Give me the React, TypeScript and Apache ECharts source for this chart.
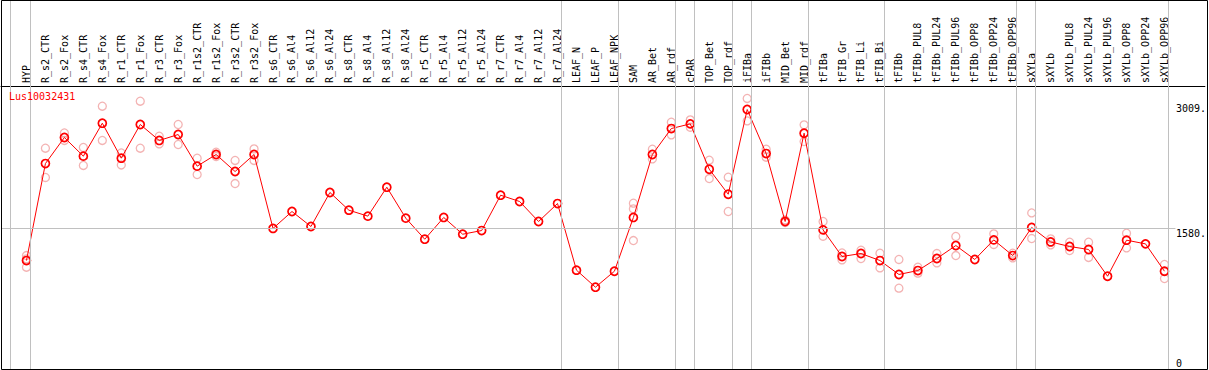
import React, { useEffect, useRef } from "react";
import * as echarts from "echarts";

const geneName = "Lus10032431";

const categories = [
  "HYP", "R_s2_CTR", "R_s2_Fox", "R_s4_CTR", "R_s4_Fox", "R_r1_CTR", "R_r1_Fox", "R_r3_CTR", "R_r3_Fox",
  "R_r1s2_CTR", "R_r1s2_Fox", "R_r3s2_CTR", "R_r3s2_Fox", "R_s6_CTR", "R_s6_Al4", "R_s6_Al12", "R_s6_Al24",
  "R_s8_CTR", "R_s8_Al4", "R_s8_Al12", "R_s8_Al24", "R_r5_CTR", "R_r5_Al4", "R_r5_Al12", "R_r5_Al24",
  "R_r7_CTR", "R_r7_Al4", "R_r7_Al12", "R_r7_Al24", "LEAF_N", "LEAF_P", "LEAF_NPK", "SAM", "AR_Bet", "AR_rdf",
  "cPAR", "TOP_Bet", "TOP_rdf", "iFIBa", "iFIBb", "MID_Bet", "MID_rdf", "tFIBa", "tFIB_Gr", "tFIB_Li", "tFIB_Bi",
  "tFIBb", "tFIBb_PUL8", "tFIBb_PUL24", "tFIBb_PUL96", "tFIBb_OPP8", "tFIBb_OPP24", "tFIBb_OPP96", "sXYLa",
  "sXYLb", "sXYLb_PUL8", "sXYLb_PUL24", "sXYLb_PUL96", "sXYLb_OPP8", "sXYLb_OPP24", "sXYLb_OPP96",
];

const means = [
  1214, 2320, 2617, 2404, 2780, 2381, 2765, 2583, 2651,
  2290, 2423, 2229, 2423, 1580, 1773, 1602, 1990,
  1788, 1720, 2050, 1697, 1457, 1705, 1514, 1556,
  1959, 1887, 1659, 1864, 1104, 910, 1092, 1705, 2423, 2719,
  2772, 2255, 1970, 2936, 2434, 1659, 2666, 1563, 1260, 1294, 1214,
  1055, 1100, 1237, 1385, 1226, 1449, 1271, 1591,
  1426, 1374, 1340, 1035, 1446, 1404, 1092,
];

const replicates: number[][] = [
  [1271, 1233, 1138], [2495, 2161], [2669, 2583], [2503, 2298], [2974, 2583], [2441, 2304], [3031, 2495], [2632, 2544], [2765, 2537],
  [2381, 2195], [2449, 2400], [2355, 2092], [2487, 2355], [], [], [], [],
  [], [], [], [], [], [], [], [],
  [], [], [], [], [], [], [], [1868, 1803, 1442], [2483, 2373], [2791, 2647],
  [2818, 2734], [2358, 2149], [2164, 1773], [3062, 2806], [2483, 2392], [1677, 1647], [2761, 2571], [1659, 1491], [1301, 1221], [1332, 1237], [1298, 1130],
  [1226, 899], [1138, 1070], [1294, 1187], [1488, 1271], [], [1518, 1397], [1298, 1244], [1757, 1465],
  [1461, 1392], [1423, 1328], [1423, 1249], [], [1526, 1358], [], [1169, 1009],
];

const yTickValues = [0, 1580, 3009];
const referenceLineValue = 1580;
const separatorsAfter = [0, 28, 31, 34, 35, 37, 38, 41, 45, 52, 53, 60];

const FONT = "DejaVu Sans Mono";

export default function App() {
  const ref = useRef<HTMLDivElement>(null);

  useEffect(() => {
    const chart = echarts.init(ref.current!, null, { renderer: "svg" });

    // layout: category i centred at 26.5 + 19 i px, grid spans x 1..1207
    const step = 19;
    const xMin = -25.5 / step;
    const xMax = xMin + 1206 / step;
    // value 0 at y=367, 0.0877 px per unit, grid spans y 0..369
    const k = 0.0877;
    const yMax = 367 / k;
    const yMin = -2 / k;

    const meanData = means.map((v, i) => [i, v]);
    const repData: number[][] = [];
    replicates.forEach((reps, i) => reps.forEach((v) => repData.push([i, v])));

    const sepLines: any[] = [{ xAxis: -16 / step }];
    separatorsAfter.forEach((s) => sepLines.push({ xAxis: s + 4 / step }));

    chart.setOption({
      animation: false,
      title: {
        text: geneName,
        left: 9,
        top: 91,
        padding: 0,
        textStyle: { color: "#ff0000", fontSize: 10, fontWeight: "normal", fontFamily: FONT },
      },
      grid: { left: 1, right: 2, top: 0, bottom: 1, containLabel: false },
      xAxis: {
        type: "value",
        min: xMin,
        max: xMax,
        position: "top",
        offset: -86,
        axisLine: { show: true, onZero: false, lineStyle: { color: "#000", width: 1 } },
        axisTick: { show: false },
        splitLine: { show: false },
        axisLabel: {
          customValues: categories.map((_, i) => i),
          formatter: (v: number) => categories[Math.round(v)] ?? "",
          rotate: -90,
          margin: 3,
          fontFamily: FONT,
          fontSize: 10,
          color: "#000",
        },
      },
      yAxis: {
        type: "value",
        min: yMin,
        max: yMax,
        position: "right",
        axisLine: { show: false },
        axisTick: { show: false },
        splitLine: { show: false },
        axisLabel: {
          customValues: yTickValues,
          inside: true,
          align: "left",
          margin: 29,
          verticalAlign: "middle",
          formatter: (v: number) => (v === 0 ? "{z|0}" : `{n|${v}.}`),
          rich: {
            n: { padding: [10, 0, 0, 0], fontFamily: FONT, fontSize: 10, color: "#000" },
            z: { padding: [0, 0, 8, 0], fontFamily: FONT, fontSize: 10, color: "#000" },
          },
        },
      },
      graphic: [
        {
          type: "rect",
          silent: true,
          z: 100,
          shape: { x: 1.5, y: 0.5, width: 1206, height: 369 },
          style: { fill: "none", stroke: "#000", lineWidth: 1 },
        },
      ],
      series: [
        {
          type: "line",
          name: "guides",
          data: [],
          z: 1,
          silent: true,
          markLine: {
            silent: true,
            symbol: "none",
            animation: false,
            label: { show: false },
            lineStyle: { color: "#c0c0c0", width: 1, type: "solid" },
            emphasis: { disabled: true },
            data: [
              ...sepLines,
              [
                { coord: [xMin, referenceLineValue] },
                { coord: [(1177.5 - 26.5) / step, referenceLineValue] },
              ],
            ],
          },
        },
        {
          type: "scatter",
          name: "replicates",
          data: repData,
          z: 2,
          symbol: "circle",
          symbolSize: 8,
          itemStyle: { color: "rgba(0,0,0,0)", borderColor: "#f0a0a0", borderWidth: 1.3 },
          silent: true,
        },
        {
          type: "line",
          name: "mean",
          data: meanData,
          z: 3,
          symbol: "circle",
          symbolSize: 8,
          showAllSymbol: true,
          lineStyle: { color: "#ff0000", width: 1 },
          itemStyle: { color: "rgba(0,0,0,0)", borderColor: "#ff0000", borderWidth: 1.7 },
          silent: true,
        },
      ],
    });

    return () => chart.dispose();
  }, []);

  return (
    <div
      ref={ref}
      style={{ position: "fixed", left: 0, top: 0, width: 1209, height: 370, background: "#fff" }}
    />
  );
}
